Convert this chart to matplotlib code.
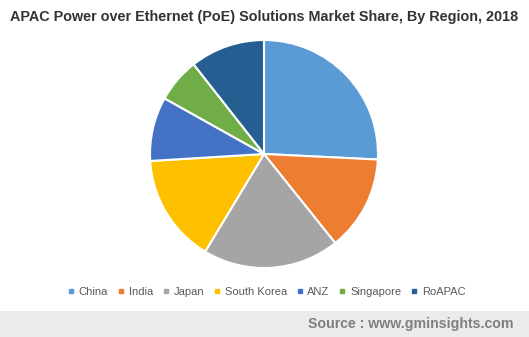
import matplotlib.pyplot as plt
from matplotlib.patches import Rectangle
from matplotlib.lines import Line2D

# --- Data ---
regions = ['China', 'India', 'Japan', 'South Korea', 'ANZ', 'Singapore', 'RoAPAC']
shares = [25.8, 13.5, 19.4, 15.4, 9.1, 6.3, 10.6]
colors = ['#5B9BD5', '#ED7D31', '#A5A5A5', '#FFC000', '#4472C4', '#70AD47', '#255E91']

title = "APAC Power over Ethernet (PoE) Solutions Market Share, By Region, 2018"
source = "Source : www.gminsights.com"

plt.rcParams['font.family'] = ['Liberation Sans', 'DejaVu Sans']

fig = plt.figure(figsize=(5.29, 3.37), dpi=100)

# pie axes: center ~ (264, 154), radius ~114 px
r = 114
cx, cy = 264, 154
W, H = 529, 337
ax = fig.add_axes([(cx - r) / W, 1 - (cy + r) / H, 2 * r / W, 2 * r / H])
ax.pie(shares, colors=colors, startangle=90, counterclock=False,
       wedgeprops=dict(edgecolor='white', linewidth=1.5))
ax.set_aspect('equal')
ax.set_xlim(-1, 1)
ax.set_ylim(-1, 1)
ax.axis('off')

fig.text(10 / W, 1 - 17 / H, title, fontsize=10.4, fontweight='bold',
         color='#333333', va='center', ha='left')

# legend
handles = [Line2D([], [], marker='s', linestyle='none', markersize=3.5,
                  markerfacecolor=c, markeredgecolor=c) for c in colors]
fig.legend(handles, regions, loc='center', bbox_to_anchor=(266 / W, 1 - 292 / H),
           ncol=len(regions), frameon=False, fontsize=8, labelcolor='#595959',
           handletextpad=0.3, columnspacing=0.75, handlelength=0.8)

# footer band
fig.patches.append(Rectangle((0, 0), 1, (H - 311) / H, transform=fig.transFigure,
                             facecolor='#EBEBEB', edgecolor='none', zorder=0))
fig.text(513 / W, 1 - 324 / H, source, fontsize=10.2, fontweight='bold',
         color='#7F7F7F', ha='right', va='center')

fig.savefig('out.png', dpi=100)
